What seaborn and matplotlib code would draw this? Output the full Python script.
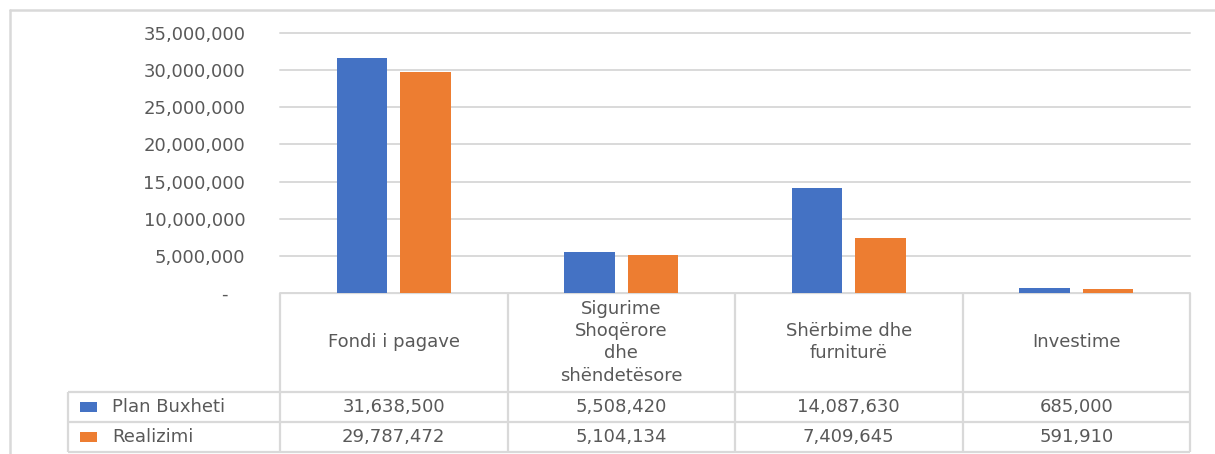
import matplotlib

matplotlib.use("Agg")
import matplotlib.pyplot as plt
import pandas as pd
import seaborn as sns
from matplotlib.lines import Line2D
from matplotlib.patches import Rectangle
from matplotlib.ticker import FuncFormatter

CATEGORIES = ["Fondi i pagave", "Sigurime Shoqërore dhe shëndetësore", "Shërbime dhe furniturë", "Investime"]
CATEGORY_LABELS = ["Fondi i pagave", "Sigurime\nShoqërore\ndhe\nshëndetësore", "Shërbime dhe\nfurniturë", "Investime"]
SERIES = ["Plan Buxheti", "Realizimi"]
PLAN = [31638500, 5508420, 14087630, 685000]
REALIZED = [29787472, 5104134, 7409645, 591910]
COLORS = ["#4472C4", "#ED7D31"]
Y_TICKS = [0, 5000000, 10000000, 15000000, 20000000, 25000000, 30000000, 35000000]

W, H = 1215, 454
GRID = "#d9d9d9"
TEXT = "#595959"
FS = 13

sns.set_style("white")
plt.rcParams["font.family"] = ["DejaVu Sans"]

df = pd.DataFrame({
    "category": CATEGORIES * 2,
    "series": [SERIES[0]] * len(CATEGORIES) + [SERIES[1]] * len(CATEGORIES),
    "value": PLAN + REALIZED,
})

fig = plt.figure(figsize=(W / 100, H / 100), dpi=100)

# outer chart frame (only top and left edges fall inside the picture)
fx, fy = 10 / W, 1 - 10 / H
fig.add_artist(Line2D([fx, 1.0], [fy, fy], transform=fig.transFigure, color=GRID, lw=1.8))
fig.add_artist(Line2D([fx, fx], [0.0, fy], transform=fig.transFigure, color=GRID, lw=1.8))

ax = fig.add_axes([280 / W, 1 - 293 / H, 910 / W, 260 / H])
sns.barplot(data=df, x="category", y="value", hue="series", order=CATEGORIES, hue_order=SERIES,
            palette=COLORS, saturation=1, width=0.56, gap=0.21, linewidth=0, legend=False, ax=ax)

ax.set_xlim(-0.5, 3.5)
ax.set_ylim(0, 35000000)
ax.set_yticks(Y_TICKS)
ax.yaxis.set_major_formatter(FuncFormatter(lambda v, _: f"{v:,.0f}" if v else "-   "))
ax.grid(axis="y", color=GRID, lw=1.4)
for gl in ax.get_ygridlines():
    gl.set_clip_on(False)
ax.set_axisbelow(True)
sns.despine(ax=ax, left=True, bottom=True)
ax.tick_params(axis="y", length=0, pad=25, labelsize=FS, labelcolor=TEXT)
ax.set_xticks(range(len(CATEGORIES)))
ax.set_xticklabels(CATEGORY_LABELS, va="center", linespacing=1.3)
ax.tick_params(axis="x", length=0, pad=35.5, labelsize=FS, labelcolor=TEXT)
ax.set_xlabel("")
ax.set_ylabel("")

# data table below the bars
tab = fig.add_axes([0, 0, 1, 1], zorder=-1)
tab.set_xlim(0, W)
tab.set_ylim(H, 0)
tab.axis("off")

col_edges = [ax.transData.transform((i - 0.5, 0))[0] for i in range(len(CATEGORIES) + 1)]
col_mids = [ax.transData.transform((i, 0))[0] for i in range(len(CATEGORIES))]
top, head_bot, row_h = 293, 392, 30
legend_left = 68

tab.hlines(top, col_edges[0], col_edges[-1], color=GRID, lw=1.6)
for k in range(3):
    tab.hlines(head_bot + k * row_h, legend_left, col_edges[-1], color=GRID, lw=1.6)
tab.vlines(col_edges, top, head_bot + 2 * row_h, color=GRID, lw=1.6)
tab.vlines(legend_left, head_bot, head_bot + 2 * row_h, color=GRID, lw=1.6)

for r, (name, color, values) in enumerate(zip(SERIES, COLORS, [PLAN, REALIZED])):
    yc = head_bot + (r + 0.5) * row_h
    tab.add_patch(Rectangle((80, yc - 5), 17, 10, color=color, lw=0))
    tab.text(112, yc, name, va="center", ha="left", fontsize=FS, color=TEXT)
    for xm, v in zip(col_mids, values):
        tab.text(xm, yc, f"{v:,}", va="center", ha="center", fontsize=FS, color=TEXT)

fig.savefig("out.png", dpi=100)
